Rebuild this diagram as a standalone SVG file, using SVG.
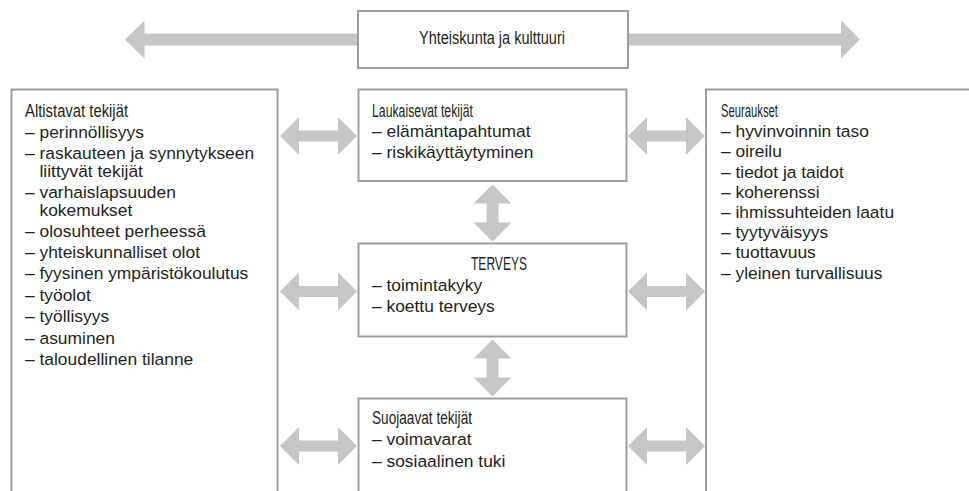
<svg xmlns="http://www.w3.org/2000/svg" width="969" height="491" viewBox="0 0 969 491">
<style>
.box{fill:#fff;stroke:#9d9d9d;stroke-width:2}
.arr{fill:#c6c6c6}
.t{font-family:"Liberation Sans",Arial,sans-serif;font-size:17.5px;fill:#231f20}
.i{font-family:"Liberation Sans",Arial,sans-serif;font-size:17.4px;fill:#231f20}
</style>
<rect width="969" height="491" fill="#fff"/>
<g id="connectors">
<polygon class="arr" points="125,39.5 144.5,20.5 144.5,33.5 358,33.5 358,45.5 144.5,45.5 144.5,58.5"/>
<polygon class="arr" points="860,39.5 841,20.5 841,33.5 628,33.5 628,45.5 841,45.5 841,58.5"/>
<polygon class="arr" points="280,136 299,117 299,130.5 338,130.5 338,117 357,136 338,155 338,141.5 299,141.5 299,155"/>
<polygon class="arr" points="280,291.5 299,272.5 299,286 338,286 338,272.5 357,291.5 338,310.5 338,297 299,297 299,310.5"/>
<polygon class="arr" points="280,446 299,427 299,440.5 338,440.5 338,427 357,446 338,465 338,451.5 299,451.5 299,465"/>
<polygon class="arr" points="628,136 647,117 647,130.5 686,130.5 686,117 705,136 686,155 686,141.5 647,141.5 647,155"/>
<polygon class="arr" points="628,291.5 647,272.5 647,286 686,286 686,272.5 705,291.5 686,310.5 686,297 647,297 647,310.5"/>
<polygon class="arr" points="628,446 647,427 647,440.5 686,440.5 686,427 705,446 686,465 686,451.5 647,451.5 647,465"/>
<polygon class="arr" points="492.5,184.5 511.5,203.5 498.5,203.5 498.5,222.5 511.5,222.5 492.5,241.5 473.5,222.5 486.5,222.5 486.5,203.5 473.5,203.5"/>
<polygon class="arr" points="492.5,339.5 511.5,358.5 498.5,358.5 498.5,377.5 511.5,377.5 492.5,396.5 473.5,377.5 486.5,377.5 486.5,358.5 473.5,358.5"/>
</g>
<g id="yhteiskunta">
<rect class="box" x="358" y="11" width="270" height="57"/>
<text class="t" x="419" y="44" textLength="146" lengthAdjust="spacingAndGlyphs">Yhteiskunta ja kulttuuri</text>
</g>
<g id="altistavat">
<rect class="box" x="11.5" y="89.5" width="266" height="430"/>
<text class="t" x="25" y="116.5" textLength="103" lengthAdjust="spacingAndGlyphs">Altistavat tekijät</text>
<text class="i" x="25" y="137.5">– perinnöllisyys</text>
<text class="i" x="25" y="158.5">– raskauteen ja synnytykseen<tspan x="39.5" y="176.5">liittyvät tekijät</tspan></text>
<text class="i" x="25" y="197.5">– varhaislapsuuden<tspan x="39.5" y="215.5">kokemukset</tspan></text>
<text class="i" x="25" y="236.5">– olosuhteet perheessä</text>
<text class="i" x="25" y="257.5">– yhteiskunnalliset olot</text>
<text class="i" x="25" y="279">– fyysinen ympäristökoulutus</text>
<text class="i" x="25" y="300.5">– työolot</text>
<text class="i" x="25" y="322">– työllisyys</text>
<text class="i" x="25" y="343.5">– asuminen</text>
<text class="i" x="25" y="365">– taloudellinen tilanne</text>
</g>
<g id="laukaisevat">
<rect class="box" x="358.5" y="89.5" width="268" height="91.5"/>
<text class="t" x="372" y="116.5" textLength="101" lengthAdjust="spacingAndGlyphs">Laukaisevat tekijät</text>
<text class="i" x="372" y="137">– elämäntapahtumat</text>
<text class="i" x="372" y="157.5">– riskikäyttäytyminen</text>
</g>
<g id="terveys">
<rect class="box" x="358.5" y="243.5" width="268" height="93"/>
<text class="t" x="499" y="269.5" text-anchor="middle" textLength="56" lengthAdjust="spacingAndGlyphs">TERVEYS</text>
<text class="i" x="372" y="290.5">– toimintakyky</text>
<text class="i" x="372" y="312">– koettu terveys</text>
</g>
<g id="suojaavat">
<rect class="box" x="358.5" y="398.5" width="268" height="120"/>
<text class="t" x="372" y="423.5" textLength="100" lengthAdjust="spacingAndGlyphs">Suojaavat tekijät</text>
<text class="i" x="372" y="445">– voimavarat</text>
<text class="i" x="372" y="466.5">– sosiaalinen tuki</text>
</g>
<g id="seuraukset">
<rect class="box" x="706" y="89.5" width="300" height="430"/>
<text class="t" x="721" y="116.5" textLength="57" lengthAdjust="spacingAndGlyphs">Seuraukset</text>
<text class="i" x="721" y="137">– hyvinvoinnin taso</text>
<text class="i" x="721" y="157">– oireilu</text>
<text class="i" x="721" y="177.5">– tiedot ja taidot</text>
<text class="i" x="721" y="197.5">– koherenssi</text>
<text class="i" x="721" y="218">– ihmissuhteiden laatu</text>
<text class="i" x="721" y="238">– tyytyväisyys</text>
<text class="i" x="721" y="258">– tuottavuus</text>
<text class="i" x="721" y="278.5">– yleinen turvallisuus</text>
</g>
</svg>
